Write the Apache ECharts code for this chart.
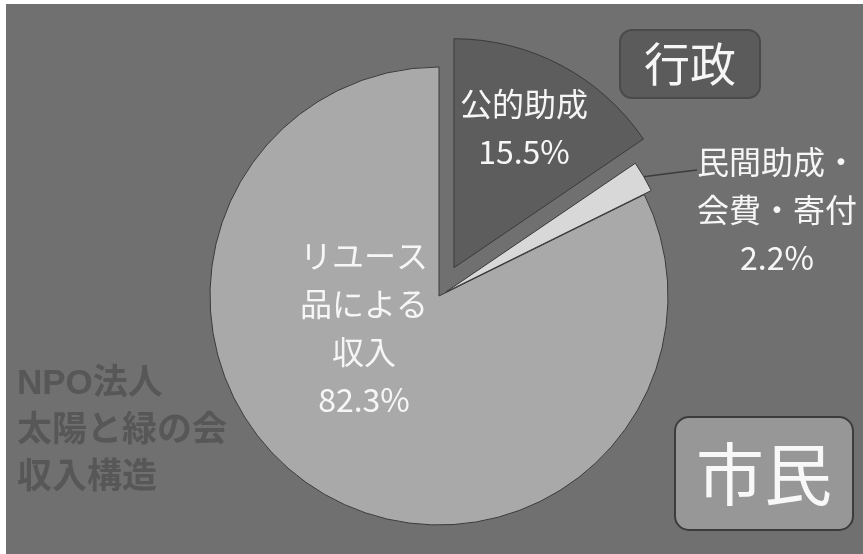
<!DOCTYPE html>
<html>
<head>
<meta charset="utf-8">
<script src="https://cdn.jsdelivr.net/npm/echarts@6/dist/echarts.min.js"></script>
<style>
html,body{margin:0;padding:0;background:#fff;}
#chart{width:863px;height:554px;}
</style>
</head>
<body>
<div id="chart"></div>
<script>
// ---- data ----
const categories = ['公的助成', '民間助成・\n会費・寄付', 'リユース\n品による\n収入'];
const shares = [15.5, 2.2, 82.3];
const sectorBoxes = ['行政', '市民'];
const titleLines = ['NPO法人', '太陽と緑の会', '収入構造'];

// ---- styling ----
const sliceColors = ['#5d5d5d', '#d8d8d8', '#a9a9a9'];
const sliceOffsets = [32, 8, 0];
const labelPos = [[524, 128], [777, 210], [364, 328]];
const labelPosition = ['inside', 'outside', 'inside'];
const BASE_CENTER = [439, 296];
const RADIUS = 229;
const FONT = "'Liberation Sans Narrow','Noto Sans CJK JP',sans-serif";
const CJK = "'Noto Sans CJK JP',sans-serif";

const total = shares.reduce((a, b) => a + b, 0);
let cum = 0;
const mids = shares.map(v => { const m = (cum + v / 2) / total * 2 * Math.PI; cum += v; return m; });
const centers = sliceOffsets.map((off, i) => [BASE_CENTER[0] + off * Math.sin(mids[i]),
                                              BASE_CENTER[1] - off * Math.cos(mids[i])]);

const series = categories.map((_, i) => ({
  type: 'pie',
  center: centers[i],
  radius: RADIUS,
  startAngle: 90,
  clockwise: true,
  avoidLabelOverlap: false,
  silent: true,
  animation: false,
  z: i === 2 ? 1 : 2,
  data: categories.map((name, j) => {
    const vis = i === j;
    return {
      name: name,
      value: shares[j],
      itemStyle: vis
        ? { color: sliceColors[j], borderColor: '#3a3a3a', borderWidth: 1 }
        : { color: 'rgba(0,0,0,0)', borderWidth: 0 },
      label: { show: vis, position: labelPosition[j] },
      labelLine: { show: vis && labelPosition[j] === 'outside' }
    };
  }),
  label: {
    color: '#f6f6f6',
    fontFamily: FONT,
    fontSize: 32,
    lineHeight: 48,
    align: 'center',
    formatter: p => p.name + '\n' + p.value.toFixed(1) + '%'
  },
  labelLine: {
    length: 12,
    length2: 40,
    smooth: false,
    lineStyle: { color: '#3c3c3c', width: 1.5 }
  },
  labelLayout: function (params) {
    const j = params.dataIndex;
    const pos = labelPos[j];
    const res = { x: pos[0], y: pos[1], align: 'center', verticalAlign: 'middle' };
    if (labelPosition[j] === 'outside') {
      const c = centers[j];
      const start = [c[0] + RADIUS * Math.sin(mids[j]), c[1] - RADIUS * Math.cos(mids[j])];
      const end = [params.labelRect.x > 0 ? pos[0] - 80 : pos[0] - 80, pos[1] - 40];
      res.labelLinePoints = [start, [(start[0] + end[0]) / 2, (start[1] + end[1]) / 2], end];
    }
    return res;
  }
}));

const chart = echarts.init(document.getElementById('chart'), null, { renderer: 'canvas' });
chart.setOption({
  backgroundColor: '#ffffff',
  animation: false,
  graphic: [
    { type: 'rect', z: -10, shape: { x: 6, y: 4, width: 857, height: 550 }, style: { fill: '#707070' } },
    { type: 'rect', z: 10, shape: { x: 620, y: 30, width: 140, height: 68, r: 12 },
      style: { fill: '#5b5b5b', stroke: '#4a4a4a', lineWidth: 2 } },
    { type: 'text', z: 11, x: 690, y: 64,
      style: { text: sectorBoxes[0], fill: '#f6f6f6', font: '46px ' + CJK, align: 'center', verticalAlign: 'middle' } },
    { type: 'rect', z: 10, shape: { x: 675, y: 417, width: 178, height: 113, r: 14 },
      style: { fill: '#979797', stroke: '#3c3c3c', lineWidth: 2 } },
    { type: 'text', z: 11, x: 764, y: 474,
      style: { text: sectorBoxes[1], fill: '#f8f8f8', font: '68px ' + CJK, align: 'center', verticalAlign: 'middle' } },
    { type: 'text', z: 11, x: 17, y: 431,
      style: { text: titleLines.join('\n'), fill: '#575757', font: 'bold 35px ' + "'Liberation Sans','Noto Sans CJK JP',sans-serif", lineHeight: 47, align: 'left', verticalAlign: 'middle' } }
  ],
  series: series
});
</script>
</body>
</html>
